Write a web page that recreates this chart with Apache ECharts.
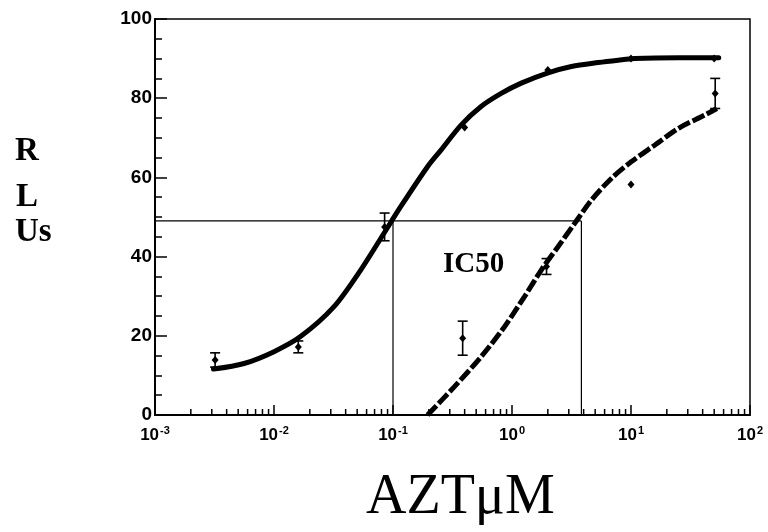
<!DOCTYPE html>
<html>
<head>
<meta charset="utf-8">
<script src="https://cdn.jsdelivr.net/npm/echarts@6/dist/echarts.min.js"></script>
<style>html,body{margin:0;padding:0;background:#fff}#c{width:768px;height:532px}</style>
</head>
<body>
<div id="c"></div>
<script>
// ---- data ----
const solidCurve = [[0.0031,11.6],[0.0056,13.0],[0.0100,16.0],[0.0167,19.8],[0.0318,27.3],[0.0535,36.6],[0.084,45.9],[0.116,52.6],[0.195,62.7],[0.253,66.9],[0.373,73.2],[0.55,77.9],[0.811,81.2],[1.196,83.8],[2.01,86.4],[3.16,88.0],[5.3,89.0],[7.82,89.6],[10.7,90.0],[25,90.2],[54.6,90.2]];
const dashedCurve = [[0.195,0],[0.327,7.1],[0.55,14.7],[0.865,22.3],[1.274,29.9],[1.762,36.6],[2.437,42.5],[3.365,48.4],[4.66,54.3],[6.87,59.8],[10.1,64.0],[15.9,68.2],[25.1,72.4],[42.0,75.8],[52.7,77.4]];
// [x, y, error]
const solidPoints = [[0.0032,13.9,1.8],[0.016,17.2,1.5],[0.085,47.5,3.5],[0.4,72.6,0],[2.0,87.1,0],[10,90,0],[50,90,0]];
const dashedPoints = [[0.385,19.4,4.3],[1.95,37.5,2.0],[10.0,58.2,0],[51,81.2,3.8]];
const ic50Horizontal = [[0.001,49],[3.83,49]];
const ic50LeftVertical = [[0.1,0],[0.1,49]];
const ic50RightVertical = [[3.83,0],[3.83,49]];
const xMinorTicks = [0.002,0.003,0.004,0.005,0.006,0.007,0.008,0.009,
  0.02,0.03,0.04,0.05,0.06,0.07,0.08,0.09,
  0.2,0.3,0.4,0.5,0.6,0.7,0.8,0.9,
  2,3,4,5,6,7,8,9,
  20,30,40,50,60,70,80,90];
const yTicks = [0,20,40,60,80,100];

const chart = echarts.init(document.getElementById('c'));

function errRender(params, api) {
  const x = api.value(0), y = api.value(1), e = api.value(2);
  const c = api.coord([x, y]);
  const children = [{type:'polygon', shape:{points:[[c[0],c[1]-4],[c[0]+3.5,c[1]],[c[0],c[1]+4],[c[0]-3.5,c[1]]]}, style:{fill:'#000'}}];
  if (e > 0) {
    const t = api.coord([x, y + e]), b = api.coord([x, y - e]);
    const hw = 5;
    const st = {stroke:'#000', lineWidth:1.6};
    children.push({type:'line', shape:{x1:t[0],y1:t[1],x2:b[0],y2:b[1]}, style:st});
    children.push({type:'line', shape:{x1:t[0]-hw,y1:t[1],x2:t[0]+hw,y2:t[1]}, style:st});
    children.push({type:'line', shape:{x1:b[0]-hw,y1:b[1],x2:b[0]+hw,y2:b[1]}, style:st});
  }
  return {type:'group', children};
}

function minorRender(params, api) {
  const p = api.coord([api.value(0), 0]);
  return {type:'line', shape:{x1:p[0],y1:p[1],x2:p[0],y2:p[1]-6}, style:{stroke:'#000', lineWidth:1.5}};
}

const guideStyle = {color:'#000', width:1.2};

chart.setOption({
  animation: false,
  backgroundColor: '#fff',
  grid: {left:155, right:18, top:19, bottom:117, show:true, borderColor:'#000', borderWidth:1.5, backgroundColor:'transparent'},
  xAxis: {
    type:'log', logBase:10, min:0.001, max:100,
    axisLine:{show:true, lineStyle:{color:'#000', width:2}},
    axisTick:{show:true, inside:true, length:10, lineStyle:{color:'#000', width:1.5}},
    splitLine:{show:false},
    axisLabel:{
      margin:10,
      formatter: v => '{b|10}{s|' + Math.round(Math.log10(v)) + '}',
      rich:{
        b:{fontFamily:'Liberation Sans', fontWeight:'bold', fontSize:17, color:'#000'},
        s:{fontFamily:'Liberation Sans', fontWeight:'bold', fontSize:11, color:'#000', padding:[0,0,9,1]}
      }
    }
  },
  yAxis: {
    type:'value', min:0, max:100, interval:20,
    axisLine:{show:true, lineStyle:{color:'#000', width:2}},
    axisTick:{show:true, inside:true, length:12, lineStyle:{color:'#000', width:1.5}},
    minorTick:{show:true, splitNumber:4, length:7, lineStyle:{color:'#000', width:1.5}},
    splitLine:{show:false},
    axisLabel:{margin:3, fontFamily:'Liberation Sans', fontWeight:'bold', fontSize:19, color:'#000',
      formatter: v => yTicks.includes(v) ? String(v) : ''}
  },
  series: [
    {type:'line', data:ic50Horizontal, symbol:'none', lineStyle:guideStyle, silent:true},
    {type:'line', data:ic50LeftVertical, symbol:'none', lineStyle:guideStyle, silent:true},
    {type:'line', data:ic50RightVertical, symbol:'none', lineStyle:guideStyle, silent:true},
    {type:'custom', data:xMinorTicks.map(v=>[v]), renderItem:minorRender, clip:false, silent:true, encode:{x:0}},
    {type:'line', data:solidCurve, smooth:0.3, symbol:'none', lineStyle:{color:'#000', width:5, cap:'round'}},
    {type:'line', data:dashedCurve, smooth:0.3, symbol:'none', lineStyle:{color:'#000', width:5, type:[13,3]}},
    {type:'custom', data:solidPoints, renderItem:errRender, encode:{x:0, y:1}, clip:false},
    {type:'custom', data:dashedPoints, renderItem:errRender, encode:{x:0, y:1}, clip:false}
  ],
  graphic: [
    {type:'text', left:15, top:135, style:{text:'R', font:'bold 33px "Liberation Serif"', fill:'#000'}},
    {type:'text', left:16, top:181, style:{text:'L', font:'bold 33px "Liberation Serif"', fill:'#000'}},
    {type:'text', left:15, top:216, style:{text:'Us', font:'bold 33px "Liberation Serif"', fill:'#000'}},
    {type:'text', left:443, top:250, style:{text:'IC50', font:'bold 29px "Liberation Serif"', fill:'#000'}},
    {type:'text', left:366, top:470, style:{text:'AZTμM', font:'56px "Liberation Serif"', fill:'#000'}}
  ]
});
</script>
</body>
</html>
